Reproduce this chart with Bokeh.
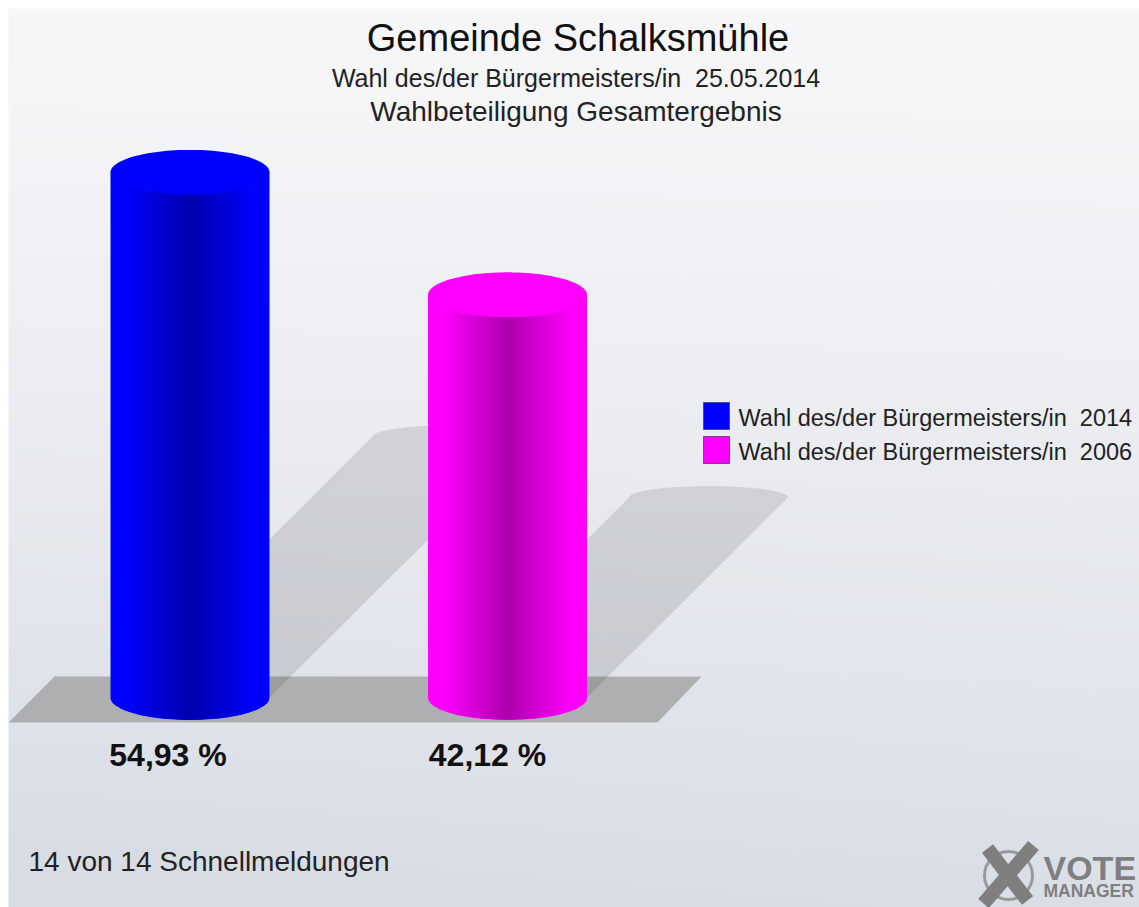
import numpy as np
from bokeh.plotting import figure
from bokeh.models import Range1d
from bokeh.core.properties import value
from bokeh.embed import file_html
from bokeh.resources import INLINE

# ---------- data ----------
title_lines = ["Gemeinde Schalksmühle",
               "Wahl des/der Bürgermeisters/in \u00a025.05.2014",
               "Wahlbeteiligung Gesamtergebnis"]
series_names = ["Wahl des/der Bürgermeisters/in \u00a02014",
                "Wahl des/der Bürgermeisters/in \u00a02006"]
series_values = [54.93, 42.12]
value_labels = ["54,93 %", "42,12 %"]
footer_text = "14 von 14 Schnellmeldungen"

# ---------- layout: picture pixel <-> data ----------
W, H = 1139, 907
BG_X0, BG_Y0 = 8, 8   # the panel starts 8px in; white above and to the left
BASE_PX = 697.0     # picture y of value 0
PX_PER_PCT = 9.56   # picture px per percentage point

def Y(py):
    return (BASE_PX - np.asarray(py, dtype=float)) / PX_PER_PCT

p = figure(width=W, height=H, output_backend="svg", toolbar_location=None,
           x_range=Range1d(0, W), y_range=Range1d(Y(H), Y(0)),
           min_border=0, outline_line_color=None, x_axis_location=None, y_axis_location=None)
p.grid.visible = False
p.background_fill_color = "#ffffff"
p.border_fill_color = None

# background gradient (row 0 of the image is the bottom of the picture)
ny, nx = 225, 283
yy, xx = np.mgrid[0:ny, 0:nx]
u = xx / (nx - 1)
d = 1 - yy / (ny - 1)   # 0 at the top of the picture, 1 at the bottom
t = np.clip(0.9 * d + 0.1 * d * (1 - u), 0, 1) ** 1.2
top = np.array([247, 247, 249.])
bot = np.array([214, 219, 228.])
img = np.zeros((ny, nx), dtype=np.uint32)
view = img.view(dtype=np.uint8).reshape((ny, nx, 4))
for i in range(3):
    view[:, :, i] = (top[i] + (bot[i] - top[i]) * t).astype(np.uint8)
view[:, :, 3] = 255
p.image_rgba(image=[img], x=BG_X0, y=Y(H), dw=W - BG_X0, dh=(H - BG_Y0) / PX_PER_PCT)

# floor
p.patch([8, 54, 701, 657], Y([722, 676, 676, 722]), fill_color="#adafb1", line_color=None)

centers = [189.5, 507.0]
half_w = 79.5
ry = 22.5
colors = [(0, 0, 255), (255, 0, 255)]
dark = 0.68
theta = np.linspace(0, np.pi, 48)

# shadows
for c, val in zip(centers, series_values):
    h = val * PX_PER_PCT * 0.497
    tx = np.cos(theta) * half_w + c + h * 1.005
    ty = BASE_PX - h - np.sin(theta) * ry * 0.5
    xs = [c - half_w, c + half_w] + list(tx)
    ys = [BASE_PX, BASE_PX] + list(ty)
    p.patch(xs, Y(ys), fill_color="#000000", fill_alpha=0.105, line_color=None)

# cylinders
for c, val, col in zip(centers, series_values, colors):
    col = np.array(col, dtype=float)
    hexcol = "#%02x%02x%02x" % tuple(col.astype(int))
    top_px = BASE_PX - val * PX_PER_PCT
    a = np.linspace(0, np.pi, 60)
    sx = np.concatenate([np.cos(a) * half_w + c, np.cos(a + np.pi) * half_w + c])
    sy = np.concatenate([BASE_PX + np.sin(a) * ry, top_px - np.sin(a) * ry])
    p.patch(sx, Y(sy), fill_color=hexcol, line_color=None)
    xs = np.arange(c - half_w + 1, c + half_w - 1, 1.0)
    mid = xs + 0.5
    f = np.abs(mid - c) / half_w
    shade = dark + (1 - dark) * np.clip(f / 0.82, 0, 1)
    curve = ry * np.sqrt(np.clip(1 - ((mid - c) / half_w) ** 2, 0, 1))
    fills = ["#%02x%02x%02x" % tuple((col * s).astype(int)) for s in shade]
    p.quad(left=xs, right=xs + 1.5, top=Y(top_px + curve), bottom=Y(BASE_PX + curve - 0.5),
           fill_color=fills, fill_alpha=1.0, line_color=None)

FONT = value("Liberation Sans")

def txt(x, py, s, size, color="#1a1a1a", align="left", weight="normal"):
    p.text(x=[x], y=[float(Y(py))], text=[s], text_font=FONT, text_font_size=size,
           text_color=color, text_align=align, text_baseline="middle", text_font_style=weight)

# titles
txt(577.5, 37, title_lines[0], "38px", "#111111", "center")
txt(575.5, 77, title_lines[1], "25px", "#222222", "center")
txt(575.5, 111, title_lines[2], "28px", "#222222", "center")

# value labels
for x, lab in zip([167.5, 487.0], value_labels):
    txt(x, 754, lab, "32px", "#111111", "center", "bold")

# legend
for py0, s, col in zip([402, 436], series_names, ["#0000ff", "#ff00ff"]):
    p.quad(left=[703], right=[729], top=[float(Y(py0))], bottom=[float(Y(py0 + 27))],
           fill_color=col, line_color="#333366", line_width=0.7)
    txt(738, py0 + 15.5, s, "23.5px", "#222222")

# footer
txt(28, 861, footer_text, "28px", "#222222")

# logo
LOGO = "#7f7f7f"
p.circle(x=[1008], y=[float(Y(875))], radius=24, fill_color=None, line_color="#9a9a9a", line_width=3)
p.line([987, 1027], Y([848, 900]), line_color=LOGO, line_width=14)
p.line([1033, 983], Y([845, 903]), line_color=LOGO, line_width=14)
txt(1043, 867.5, "VOTE", "34px", LOGO, weight="bold")
txt(1043, 890.5, "MANAGER", "17.5px", LOGO, weight="bold")

open("out.html", "w").write(file_html(p, INLINE))
